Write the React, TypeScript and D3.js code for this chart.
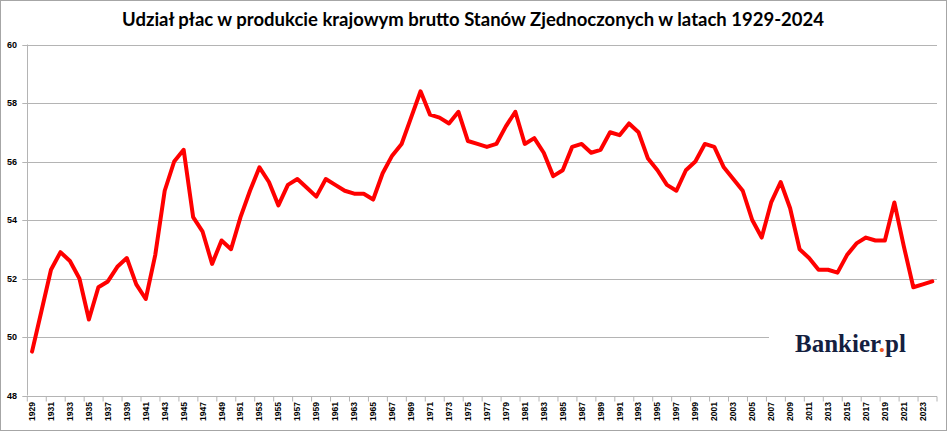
import React, { useEffect, useRef } from 'react';
import * as d3 from 'd3';

// Udział płac w PKB USA, 1929-2024
const years: number[] = d3.range(1929, 2025);
const wageShare: number[] = [
  49.5, 50.9, 52.3, 52.9, 52.6, 52.0, 50.6, 51.7, 51.9, 52.4,
  52.7, 51.8, 51.3, 52.8, 55.0, 56.0, 56.4, 54.1, 53.6, 52.5,
  53.3, 53.0, 54.1, 55.0, 55.8, 55.3, 54.5, 55.2, 55.4, 55.1,
  54.8, 55.4, 55.2, 55.0, 54.9, 54.9, 54.7, 55.6, 56.2, 56.6,
  57.5, 58.4, 57.6, 57.5, 57.3, 57.7, 56.7, 56.6, 56.5, 56.6,
  57.2, 57.7, 56.6, 56.8, 56.3, 55.5, 55.7, 56.5, 56.6, 56.3,
  56.4, 57.0, 56.9, 57.3, 57.0, 56.1, 55.7, 55.2, 55.0, 55.7,
  56.0, 56.6, 56.5, 55.8, 55.4, 55.0, 54.0, 53.4, 54.6, 55.3,
  54.4, 53.0, 52.7, 52.3, 52.3, 52.2, 52.8, 53.2, 53.4, 53.3,
  53.3, 54.6, 53.1, 51.7, 51.8, 51.9,
];
const yTicks: number[] = [48, 50, 52, 54, 56, 58, 60];
const title = 'Udział płac w produkcie krajowym brutto Stanów Zjednoczonych w latach 1929-2024';

const App: React.FC = () => {
  const svgRef = useRef<SVGSVGElement>(null);

  useEffect(() => {
    if (!svgRef.current) return;
    const width = 948;
    const height = 432;
    const margin = { top: 44.5, right: 11, bottom: 36.5, left: 27.3 };

    const svg = d3.select(svgRef.current);
    svg.selectAll('*').remove();
    svg.attr('width', width).attr('height', height);

    const x = d3.scaleBand<number>()
      .domain(years)
      .range([margin.left, width - margin.right])
      .padding(0);
    const y = d3.scaleLinear()
      .domain([48, 60])
      .range([height - margin.bottom, margin.top]);

    const grid = '#b4b4b4';

    // ramka
    svg.append('rect')
      .attr('x', 0.5).attr('y', 0.5)
      .attr('width', width - 2).attr('height', height - 2)
      .attr('fill', '#fff')
      .attr('stroke', '#a6a6a6');

    // linie siatki
    svg.append('g')
      .selectAll('line')
      .data(yTicks.filter(t => t !== 48))
      .enter()
      .append('line')
      .attr('x1', margin.left - 5)
      .attr('x2', width - margin.right)
      .attr('y1', d => Math.round(y(d)) + 0.5)
      .attr('y2', d => Math.round(y(d)) + 0.5)
      .attr('stroke', grid)
      .attr('stroke-width', 1);

    // oś Y
    const x0 = Math.round(margin.left) + 0.5;
    svg.append('line')
      .attr('x1', x0).attr('x2', x0)
      .attr('y1', y(60)).attr('y2', y(48))
      .attr('stroke', grid);
    svg.append('g')
      .selectAll('text')
      .data(yTicks)
      .enter()
      .append('text')
      .attr('x', 17)
      .attr('y', d => y(d))
      .attr('dy', '0.35em')
      .attr('text-anchor', 'end')
      .attr('font-family', 'Liberation Sans, Arial, sans-serif')
      .attr('font-weight', 'bold')
      .attr('font-size', 9)
      .attr('fill', '#000')
      .text(d => d);

    // oś X
    const yb = Math.round(y(48)) + 0.5;
    svg.append('line')
      .attr('x1', margin.left - 5).attr('x2', width - margin.right)
      .attr('y1', yb).attr('y2', yb)
      .attr('stroke', grid);
    const tickYears = years.filter((_, i) => i % 2 === 0).concat([2025]);
    svg.append('g')
      .selectAll('line')
      .data(tickYears)
      .enter()
      .append('line')
      .attr('x1', d => (d === 2025 ? width - margin.right : x(d)!))
      .attr('x2', d => (d === 2025 ? width - margin.right : x(d)!))
      .attr('y1', yb)
      .attr('y2', yb + 5)
      .attr('stroke', grid);
    svg.append('g')
      .selectAll('text')
      .data(years.filter((_, i) => i % 2 === 0))
      .enter()
      .append('text')
      .attr('transform', d => `translate(${x(d)! + x.bandwidth() / 2}, 402) rotate(-90)`)
      .attr('dy', '0.35em')
      .attr('text-anchor', 'end')
      .attr('font-family', 'Liberation Sans, Arial, sans-serif')
      .attr('font-weight', 'bold')
      .attr('font-size', 8.5)
      .attr('fill', '#000')
      .text(d => d);

    // logo
    svg.append('rect')
      .attr('x', 769).attr('y', 320)
      .attr('width', 168).attr('height', 40)
      .attr('fill', '#fff');
    const logo = svg.append('text')
      .attr('x', 795)
      .attr('y', 352)
      .attr('font-family', 'Liberation Serif, serif')
      .attr('font-weight', 'bold')
      .attr('font-size', 25)
      .attr('fill', '#14203f');
    logo.append('tspan').text('Bankier');
    logo.append('tspan').attr('fill', '#f05a22').text('.');
    logo.append('tspan').text('pl');

    // seria
    const line = d3.line<number>()
      .x((_, i) => x(years[i])! + x.bandwidth() / 2)
      .y(d => y(d));
    svg.append('path')
      .datum(wageShare)
      .attr('d', line)
      .attr('fill', 'none')
      .attr('stroke', '#ff0000')
      .attr('stroke-width', 4)
      .attr('stroke-linejoin', 'round')
      .attr('stroke-linecap', 'round');

    // tytuł
    svg.append('text')
      .attr('x', 473)
      .attr('y', 26)
      .attr('text-anchor', 'middle')
      .attr('font-family', 'Lato, Open Sans, sans-serif')
      .attr('font-weight', 'bold')
      .attr('font-size', 18.5)
      .attr('fill', '#000')
      .text(title);
  }, []);

  return (
    <div style={{ position: 'absolute', left: 0, top: 0 }}>
      <svg ref={svgRef}></svg>
    </div>
  );
};

export default App;
